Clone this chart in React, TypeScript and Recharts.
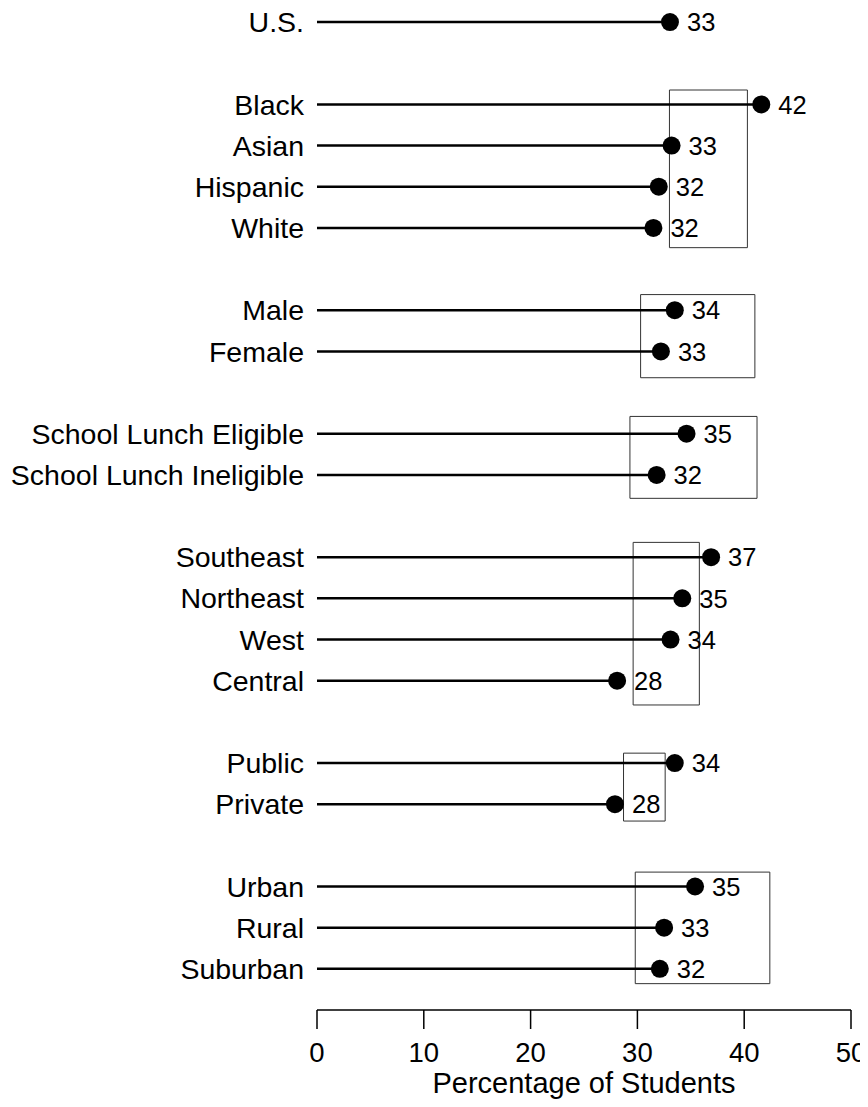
import React from 'react';
import { ComposedChart, Scatter, XAxis, YAxis, ReferenceLine, ReferenceArea, Label } from 'recharts';

const categories = ['U.S.', 'Black', 'Asian', 'Hispanic', 'White', 'Male', 'Female', 'School Lunch Eligible', 'School Lunch Ineligible', 'Southeast', 'Northeast', 'West', 'Central', 'Public', 'Private', 'Urban', 'Rural', 'Suburban'];
const rowIndex = [0, 2, 3, 4, 5, 7, 8, 10, 11, 13, 14, 15, 16, 18, 19, 21, 22, 23];
const percentValues = [33.05, 41.6, 33.2, 32.0, 31.5, 33.5, 32.2, 34.6, 31.8, 36.9, 34.2, 33.1, 28.1, 33.5, 27.9, 35.4, 32.5, 32.1];
const valueLabels = ['33', '42', '33', '32', '32', '34', '33', '35', '32', '37', '35', '34', '28', '34', '28', '35', '33', '32'];

const boxLow = [33.0, 30.3, 29.3, 29.6, 28.7, 29.8];
const boxHigh = [40.3, 41.0, 41.2, 35.8, 32.6, 42.4];
const boxTopRow = [1.65, 6.62, 9.58, 12.64, 17.76, 20.65];
const boxBottomRow = [5.48, 8.64, 11.57, 16.59, 19.41, 23.36];

const xTicks = [0, 10, 20, 30, 40, 50];
const xTitle = 'Percentage of Students';

const FONT = '"Liberation Sans", Arial, Helvetica, sans-serif';

const points = categories.map((c, i) => ({
  name: c,
  row: rowIndex[i],
  value: percentValues[i],
  label: valueLabels[i],
}));

const boxes = boxLow.map((lo, i) => ({ lo, hi: boxHigh[i], top: boxTopRow[i], bottom: boxBottomRow[i] }));

const rowToName: Record<number, string> = {};
rowIndex.forEach((r, i) => {
  rowToName[r] = categories[i];
});

const DotShape = (props: any) => {
  const { cx, cy, payload } = props;
  if (cx == null || cy == null) return null;
  return (
    <g>
      <circle cx={cx} cy={cy} r={9} fill="#000" />
      <text
        x={cx + 17}
        y={cy}
        dy="0.36em"
        fontSize={25.5}
        fontFamily={FONT}
        fill="#000"
        textAnchor="start"
      >
        {payload.label}
      </text>
    </g>
  );
};

export default function App() {
  return (
    <div style={{ marginLeft: -8, marginTop: -8, width: 868, height: 1107, background: '#fff' }}>
      <ComposedChart
        width={868}
        height={1107}
        data={points}
        margin={{ top: 1.5, right: 17, bottom: 0, left: 0 }}
        style={{ fontFamily: FONT }}
      >
        <XAxis
          type="number"
          dataKey="value"
          domain={[0, 50]}
          ticks={xTicks}
          allowDataOverflow
          height={97}
          tickSize={19}
          tickMargin={13}
          axisLine={{ stroke: '#000', strokeWidth: 1.5 }}
          tickLine={{ stroke: '#000', strokeWidth: 1.5 }}
          tick={{ fill: '#000', fontSize: 27.5, fontFamily: FONT }}
        >
          <Label
            value={xTitle}
            position="insideBottom"
            offset={14}
            style={{ fill: '#000', fontSize: 29, fontFamily: FONT }}
          />
        </XAxis>
        <YAxis
          type="number"
          dataKey="row"
          domain={[-0.5, 24]}
          reversed
          ticks={rowIndex}
          interval={0}
          allowDataOverflow
          width={317}
          axisLine={false}
          tickLine={false}
          tickSize={0}
          tickMargin={13}
          tickFormatter={(v: number) => rowToName[v] ?? ''}
          tick={{ fill: '#000', fontSize: 28.5, fontFamily: FONT }}
        />
        {boxes.map((b, i) => (
          <ReferenceArea
            key={'box' + i}
            x1={b.lo}
            x2={b.hi}
            y1={b.top}
            y2={b.bottom}
            fill="none"
            fillOpacity={0}
            stroke="#333"
            strokeWidth={1}
            ifOverflow="visible"
          />
        ))}
        {points.map((p, i) => (
          <ReferenceLine
            key={'ln' + i}
            segment={[{ x: 0, y: p.row }, { x: p.value, y: p.row }]}
            stroke="#000"
            strokeWidth={2.5}
            ifOverflow="visible"
          />
        ))}
        <Scatter data={points} dataKey="value" shape={<DotShape />} isAnimationActive={false} />
      </ComposedChart>
    </div>
  );
}
